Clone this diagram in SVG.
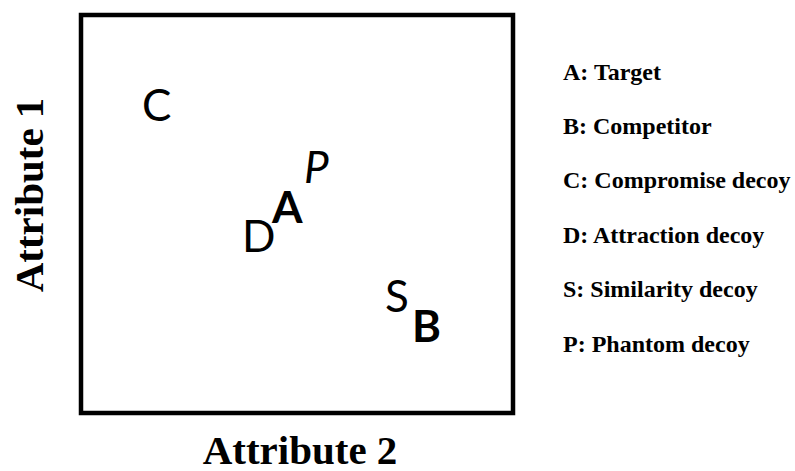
<svg xmlns="http://www.w3.org/2000/svg" width="795" height="471" viewBox="0 0 795 471">
<style>
.pt{font-family:Lato,"Open Sans",sans-serif;font-size:44px;fill:#000}
.b{font-weight:bold}
.lg{font-family:"Liberation Serif","Times New Roman",serif;font-weight:bold;font-size:24px;fill:#000}
.ax{font-family:"Liberation Serif","Times New Roman",serif;font-weight:bold;font-size:41px;fill:#000}
</style>
<rect x="81" y="15" width="432" height="398" fill="#fff" stroke="#000" stroke-width="4.5"/>
<g id="C"><text class="pt" x="142" y="121">C</text></g>
<g id="P"><text class="pt" x="304" y="183" font-style="italic">P</text></g>
<g id="A"><text class="pt b" x="272" y="223">A</text></g>
<g id="D"><text class="pt" x="242" y="252">D</text></g>
<g id="S"><text class="pt" x="385" y="312">S</text></g>
<g id="B"><text class="pt b" x="412" y="342">B</text></g>
<g id="legend">
<text class="lg" x="563" y="80">A: Target</text>
<text class="lg" x="563" y="134">B: Competitor</text>
<text class="lg" x="563" y="188">C: Compromise decoy</text>
<text class="lg" x="563" y="243">D: Attraction decoy</text>
<text class="lg" x="563" y="297">S: Similarity decoy</text>
<text class="lg" x="563" y="352">P: Phantom decoy</text>
</g>
<text class="ax" x="300" y="464" text-anchor="middle">Attribute 2</text>
<text class="ax" transform="translate(43,195) rotate(-90)" text-anchor="middle">Attribute 1</text>
</svg>
